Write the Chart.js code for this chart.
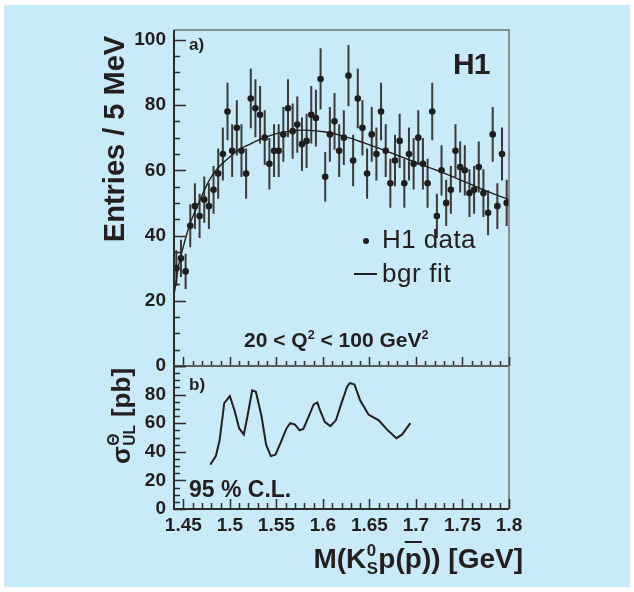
<!DOCTYPE html>
<html>
<head>
<meta charset="utf-8">
<title>H1 M(K0s p) spectrum</title>
<script src="https://cdn.jsdelivr.net/npm/chart.js@4.4.1/dist/chart.umd.min.js"></script>
<style>
  html, body { margin: 0; padding: 0; background: #ffffff; width: 634px; height: 592px; overflow: hidden; }
  #panel { position: absolute; left: 4px; top: 5px; width: 626px; height: 582px; background: #c8eaf9; }
  canvas { position: absolute; left: 0; }
  #topCanvas { top: 0; }
  #botCanvas { top: 360px; }
  .lbl { position: absolute; font-family: "Liberation Sans", Arial, sans-serif; color: #231f20; line-height: 1; white-space: nowrap; }
  .b { font-weight: bold; }
  .rot { transform: translate(-50%, -50%) rotate(-90deg); }
  sup { font-size: 0.6em; vertical-align: 0.62em; line-height: 0; }
  .ss { display: inline-block; position: relative; height: 0.8em; vertical-align: baseline; }
  .ss span { position: absolute; left: 0.5px; line-height: 1; }
  .ovl { text-decoration: overline; text-decoration-thickness: 2px; }
</style>
</head>
<body>
<div id="panel"></div>
<canvas id="topCanvas" width="634" height="380"></canvas>
<canvas id="botCanvas" width="634" height="232"></canvas>

<!-- axis titles and annotations -->
<div class="lbl b rot" style="left:114px; top:139px; font-size:29px;">Entries / 5 MeV</div>
<div class="lbl b rot" style="left:121px; top:416px; font-size:26px;">σ<span class="ss" style="width:22px"><span style="top:-2.8px; font-size:15.6px">Θ</span><span style="top:13px; font-size:15.6px">UL</span></span> [pb]</div>
<div class="lbl b" style="right:111px; top:545px; font-size:28px;">M(K<span class="ss" style="width:12px"><span style="top:-2.6px; font-size:16.8px">0</span><span style="top:15.7px; font-size:16.8px">S</span></span>p(<span class="ovl">p</span>)) [GeV]</div>

<div class="lbl b" style="left:189px; top:35.6px; font-size:17px;">a)</div>
<div class="lbl b" style="left:453px; top:48.6px; font-size:30px; letter-spacing:-1px;">H1</div>
<div style="position:absolute; left:362.8px; top:237.8px; width:6.4px; height:6.4px; border-radius:50%; background:#231f20;"></div>
<div class="lbl" style="left:382px; top:226px; font-size:26px; letter-spacing:0.4px;">H1 data</div>
<div style="position:absolute; left:354px; top:273px; width:23px; height:2px; background:#231f20;"></div>
<div class="lbl" style="left:382px; top:260px; font-size:26px; letter-spacing:0.6px;">bgr fit</div>
<div class="lbl b" style="left:244px; top:329px; font-size:21px;">20 &lt; Q<sup>2</sup> &lt; 100 GeV<sup>2</sup></div>
<div class="lbl b" style="left:189px; top:375.6px; font-size:17px;">b)</div>
<div class="lbl b" style="left:189px; top:477.5px; font-size:23px;">95 % C.L.</div>

<script>
/* H1 pentaquark search: K0s p mass spectrum (a) and 95% CL upper limit (b) */

Chart.defaults.font.family = "'Liberation Sans', Arial, sans-serif";
Chart.defaults.color = "#231f20";

// ---- Data: panel a) entries per 5 MeV bin ----
const binCentres = [
  1.4425, 1.4475, 1.4525, 1.4575, 1.4625, 1.4675, 1.4725, 1.4775, 1.4825, 1.4875,
  1.4925, 1.4975, 1.5025, 1.5075, 1.5125, 1.5175, 1.5225, 1.5275, 1.5325, 1.5375,
  1.5425, 1.5475, 1.5525, 1.5575, 1.5625, 1.5675, 1.5725, 1.5775, 1.5825, 1.5875,
  1.5925, 1.5975, 1.6025, 1.6075, 1.6125, 1.6175, 1.6225, 1.6275, 1.6325, 1.6375,
  1.6425, 1.6475, 1.6525, 1.6575, 1.6625, 1.6675, 1.6725, 1.6775, 1.6825, 1.6875,
  1.6925, 1.6975, 1.7025, 1.7075, 1.7125, 1.7175, 1.7225, 1.7275, 1.7325, 1.7375,
  1.7425, 1.7475, 1.7525, 1.7575, 1.7625, 1.7675, 1.7725, 1.7775, 1.7825, 1.7875,
  1.7925, 1.7975
];
const entries = [
  30, 33, 29, 43, 49, 46, 51, 49, 54, 59,
  65, 78, 66, 73, 66, 59, 82, 79, 77, 70,
  62, 66, 66, 71, 79, 72, 74, 68, 69, 77,
  76, 88, 58, 71, 75, 66, 70, 89, 63, 82,
  73, 59, 71, 65, 78, 66, 56, 63, 69, 56,
  65, 62, 70, 62, 56, 78, 46, 60, 50, 54,
  66, 61, 60, 53, 54, 61, 53, 47, 71, 49,
  65, 50
];
const entryErrors = [
  5.5, 5.7, 5.4, 6.6, 7.0, 6.8, 7.1, 7.0, 7.3, 7.7,
  8.1, 8.8, 8.1, 8.5, 8.1, 7.7, 9.1, 8.9, 8.8, 8.4,
  7.9, 8.1, 8.1, 8.4, 8.9, 8.5, 8.6, 8.2, 8.3, 8.8,
  8.7, 9.4, 7.6, 8.4, 8.7, 8.1, 8.4, 9.4, 7.9, 9.1,
  8.5, 7.7, 8.4, 8.1, 8.8, 8.1, 7.5, 7.9, 8.3, 7.5,
  8.1, 7.9, 8.4, 7.9, 7.5, 8.8, 6.8, 7.7, 7.1, 7.3,
  8.1, 7.8, 7.7, 7.3, 7.3, 7.8, 7.3, 6.9, 8.4, 7.0,
  8.1, 7.1
];

// background fit curve
const fitMass = [1.440, 1.442, 1.445, 1.449, 1.454, 1.458, 1.464, 1.471, 1.478, 1.487,
  1.498, 1.509, 1.520, 1.535, 1.557, 1.579, 1.601, 1.623, 1.645, 1.667,
  1.688, 1.710, 1.732, 1.754, 1.776, 1.800];
const fitEntries = [21.8, 25.3, 31, 35.5, 40.7, 44.2, 48.3, 52.9, 57, 60.6,
  63.6, 66.2, 67.8, 69.8, 71.7, 72.3, 71.8, 70.4, 68.3, 66,
  63.7, 61.3, 58.9, 56.3, 53.6, 51];

// ---- Data: panel b) upper limit sigma_UL [pb] ----
const limitMass = [1.479, 1.485, 1.489, 1.494, 1.500, 1.505, 1.510, 1.515, 1.519, 1.524,
  1.528, 1.534, 1.539, 1.544, 1.549, 1.555, 1.561, 1.565, 1.570, 1.575,
  1.579, 1.584, 1.590, 1.594, 1.597, 1.602, 1.608, 1.614, 1.620, 1.626,
  1.629, 1.634, 1.640, 1.649, 1.660, 1.669, 1.679, 1.685, 1.694];
const limitPb = [31, 37, 48, 74, 79, 69, 56.5, 52, 65, 83,
  82, 65, 45, 37, 38, 47, 56.5, 60, 59, 55,
  56, 63.5, 73, 74.5, 69, 61, 58, 62, 74, 85.5,
  88, 87, 76, 66, 62, 55.5, 49.5, 52, 60];

// ---- Axis ticks ----
const massTicks = [1.45, 1.5, 1.55, 1.6, 1.65, 1.7, 1.75, 1.8];
const massTickLabels = ["1.45", "1.5", "1.55", "1.6", "1.65", "1.7", "1.75", "1.8"];
const entryTicks = [0, 20, 40, 60, 80, 100];
const limitTicks = [0, 20, 40, 60, 80];

const INK = "#231f20";
const tickFont = { size: 19, weight: "bold" };

// ROOT-like frame: inward ticks, dark left/bottom axes, grey top/right
const rootFrame = {
  id: "rootFrame",
  afterDatasetsDraw(chart, args, opts) {
    const { ctx, chartArea: a, scales } = chart;
    const x = scales.x, y = scales.y;
    ctx.save();
    ctx.strokeStyle = "#707070";
    ctx.lineWidth = 1.5;
    ctx.beginPath();
    ctx.moveTo(a.left, a.top);
    ctx.lineTo(a.right, a.top);
    ctx.lineTo(a.right, a.bottom);
    ctx.stroke();

    ctx.strokeStyle = "#2b2b2b";
    ctx.lineWidth = 1.5;
    ctx.beginPath();
    for (let v = 0; v <= y.max + 0.01; v += 5) {
      const py = Math.round(y.getPixelForValue(v)) + 0.5;
      const len = v % 20 === 0 ? 12 : 6;
      ctx.moveTo(a.left, py);
      ctx.lineTo(a.left + len, py);
    }
    for (let k = 145; k <= 180; k++) {
      const px = Math.round(x.getPixelForValue(k / 100)) + 0.5;
      const len = k % 5 === 0 ? opts.xMajor : opts.xMinor;
      ctx.moveTo(px, a.bottom);
      ctx.lineTo(px, a.bottom - len);
    }
    ctx.stroke();

    ctx.lineWidth = 2;
    ctx.beginPath();
    ctx.moveTo(a.left, a.top);
    ctx.lineTo(a.left, a.bottom);
    ctx.lineTo(a.right, a.bottom);
    ctx.stroke();
    ctx.restore();
  }
};

function pairs(xs, ys) {
  return xs.map((x, i) => ({ x: x, y: ys[i] }));
}

// vertical error bars as broken line segments
function errorSegments() {
  const seg = [];
  binCentres.forEach((x, i) => {
    seg.push({ x: x, y: entries[i] - entryErrors[i] });
    seg.push({ x: x, y: entries[i] + entryErrors[i] });
    seg.push({ x: x, y: null });
  });
  return seg;
}

function massAxis(showLabels, height) {
  return {
    type: "linear",
    min: 1.44,
    max: 1.8,
    afterBuildTicks: (s) => { s.ticks = massTicks.map((v) => ({ value: v })); },
    ticks: {
      display: showLabels,
      font: tickFont,
      color: INK,
      padding: 5,
      maxRotation: 0,
      callback: (v, i) => massTickLabels[i]
    },
    grid: { display: false, drawTicks: false },
    border: { display: false },
    afterFit: (s) => {
      s.height = height;
      s.paddingLeft = 0; s.paddingRight = 0; s.paddingTop = 0; s.paddingBottom = 0;
    }
  };
}

function valueAxis(max, ticks) {
  return {
    min: 0,
    max: max,
    afterBuildTicks: (s) => { s.ticks = ticks.map((v) => ({ value: v })); },
    ticks: { font: tickFont, color: INK, padding: 8 },
    grid: { display: false, drawTicks: false },
    border: { display: false },
    afterFit: (s) => {
      s.width = 174;
      s.paddingLeft = 0; s.paddingRight = 0; s.paddingTop = 0; s.paddingBottom = 0;
    }
  };
}

// Panel a) invariant mass spectrum
new Chart(document.getElementById("topCanvas"), {
  type: "line",
  data: {
    datasets: [
      {
        data: pairs(binCentres, entries),
        showLine: false,
        pointRadius: 3.3,
        pointBackgroundColor: "#1e1e1e",
        pointBorderWidth: 0,
        order: 0
      },
      {
        data: pairs(fitMass, fitEntries),
        borderColor: INK,
        borderWidth: 1.4,
        pointRadius: 0,
        cubicInterpolationMode: "monotone",
        order: 1
      },
      {
        data: errorSegments(),
        borderColor: "#3a3a3a",
        borderWidth: 2,
        pointRadius: 0,
        spanGaps: false,
        order: 2
      }
    ]
  },
  options: {
    responsive: false,
    animation: false,
    layout: { padding: { left: 0, top: 30, right: 125, bottom: 0 } },
    plugins: {
      legend: { display: false },
      tooltip: { enabled: false },
      rootFrame: { xMajor: 9, xMinor: 5 }
    },
    scales: {
      x: massAxis(false, 14),
      y: valueAxis(103, entryTicks)
    }
  },
  plugins: [rootFrame]
});

// Panel b) 95% C.L. upper limit
new Chart(document.getElementById("botCanvas"), {
  type: "line",
  data: {
    datasets: [
      {
        data: pairs(limitMass, limitPb),
        borderColor: INK,
        borderWidth: 2,
        pointRadius: 0,
        tension: 0
      }
    ]
  },
  options: {
    responsive: false,
    animation: false,
    layout: { padding: { left: 0, top: 6, right: 125, bottom: 0 } },
    plugins: {
      legend: { display: false },
      tooltip: { enabled: false },
      rootFrame: { xMajor: 10, xMinor: 6 }
    },
    scales: {
      x: massAxis(true, 83),
      y: valueAxis(100, limitTicks)
    }
  },
  plugins: [rootFrame]
});
</script>
</body>
</html>
